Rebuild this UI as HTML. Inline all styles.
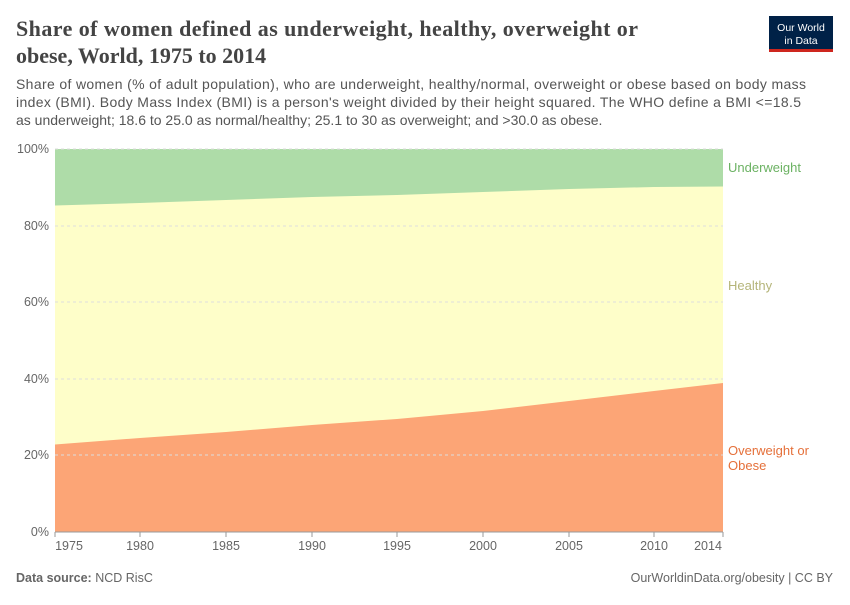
<!DOCTYPE html>
<html><head><meta charset="utf-8"><style>
body{margin:0;background:#fff;width:850px;height:600px;overflow:hidden;font-family:"Liberation Sans",sans-serif;}
</style></head><body>
<svg width="850" height="600" xmlns="http://www.w3.org/2000/svg" font-family="Liberation Sans, sans-serif">
<text x="16" y="36" font-family="Liberation Serif, serif" font-size="22" font-weight="bold" fill="#444" textLength="622">Share of women defined as underweight, healthy, overweight or</text>
<text x="16" y="63" font-family="Liberation Serif, serif" font-size="22" font-weight="bold" fill="#444">obese, World, 1975 to 2014</text>
<rect x="769" y="16" width="64" height="36" fill="#002147"/>
<rect x="769" y="49" width="64" height="3" fill="#ce261e"/>
<text x="801" y="31" font-size="10.5" fill="#fff" text-anchor="middle">Our World</text>
<text x="801" y="44" font-size="10.5" fill="#fff" text-anchor="middle">in Data</text>
<text font-size="14" fill="#555"><tspan x="16" y="89" textLength="790">Share of women (% of adult population), who are underweight, healthy/normal, overweight or obese based on body mass</tspan><tspan x="16" y="107" textLength="785">index (BMI). Body Mass Index (BMI) is a person's weight divided by their height squared. The WHO define a BMI &lt;=18.5</tspan><tspan x="16" y="125">as underweight; 18.6 to 25.0 as normal/healthy; 25.1 to 30 as overweight; and &gt;30.0 as obese.</tspan></text>
<rect x="55" y="149" width="668" height="383" fill="#aedca8"/>
<polygon points="55,205.5 140,203 226,200 312,197 397,195 483,192 569,189 654,187 723,186.5 723,532 55,532" fill="#fefec9"/>
<polygon points="55,444.5 140,438 226,432 312,425 397,419 483,411 569,401 654,391 723,383 723,532 55,532" fill="#fca576"/>
<g stroke="#ddd" stroke-dasharray="3,3"><line x1="55" x2="723" y1="226" y2="226"/><line x1="55" x2="723" y1="302" y2="302"/><line x1="55" x2="723" y1="379" y2="379"/><line x1="55" x2="723" y1="455" y2="455"/><line x1="55" x2="723" y1="149" y2="149"/></g>
<line x1="55" x2="723" y1="532" y2="532" stroke="#999"/>
<g font-size="12.5" fill="#666" text-anchor="end"><text x="49" y="153">100%</text><text x="49" y="230">80%</text><text x="49" y="306">60%</text><text x="49" y="383">40%</text><text x="49" y="459">20%</text><text x="49" y="536">0%</text></g>
<g font-size="12.5" fill="#666" text-anchor="middle"><text x="69" y="550">1975</text><text x="140" y="550">1980</text><text x="226" y="550">1985</text><text x="312" y="550">1990</text><text x="397" y="550">1995</text><text x="483" y="550">2000</text><text x="569" y="550">2005</text><text x="654" y="550">2010</text><text x="708" y="550">2014</text></g>
<g stroke="#999"><line x1="55" x2="55" y1="532" y2="537"/><line x1="140" x2="140" y1="532" y2="537"/><line x1="226" x2="226" y1="532" y2="537"/><line x1="312" x2="312" y1="532" y2="537"/><line x1="397" x2="397" y1="532" y2="537"/><line x1="483" x2="483" y1="532" y2="537"/><line x1="569" x2="569" y1="532" y2="537"/><line x1="654" x2="654" y1="532" y2="537"/><line x1="723" x2="723" y1="532" y2="537"/></g>
<text x="728" y="172" font-size="13" fill="#6cb263">Underweight</text>
<text x="728" y="290" font-size="13" fill="#b5b57a">Healthy</text>
<text x="728" y="455" font-size="13" fill="#e5703a">Overweight or</text>
<text x="728" y="470" font-size="13" fill="#e5703a">Obese</text>
<text x="16" y="582" font-size="12.5" fill="#666"><tspan font-weight="bold">Data source:</tspan> NCD RisC</text>
<text x="833" y="582" font-size="12.5" fill="#666" text-anchor="end">OurWorldinData.org/obesity | CC BY</text>
</svg>
</body></html>
